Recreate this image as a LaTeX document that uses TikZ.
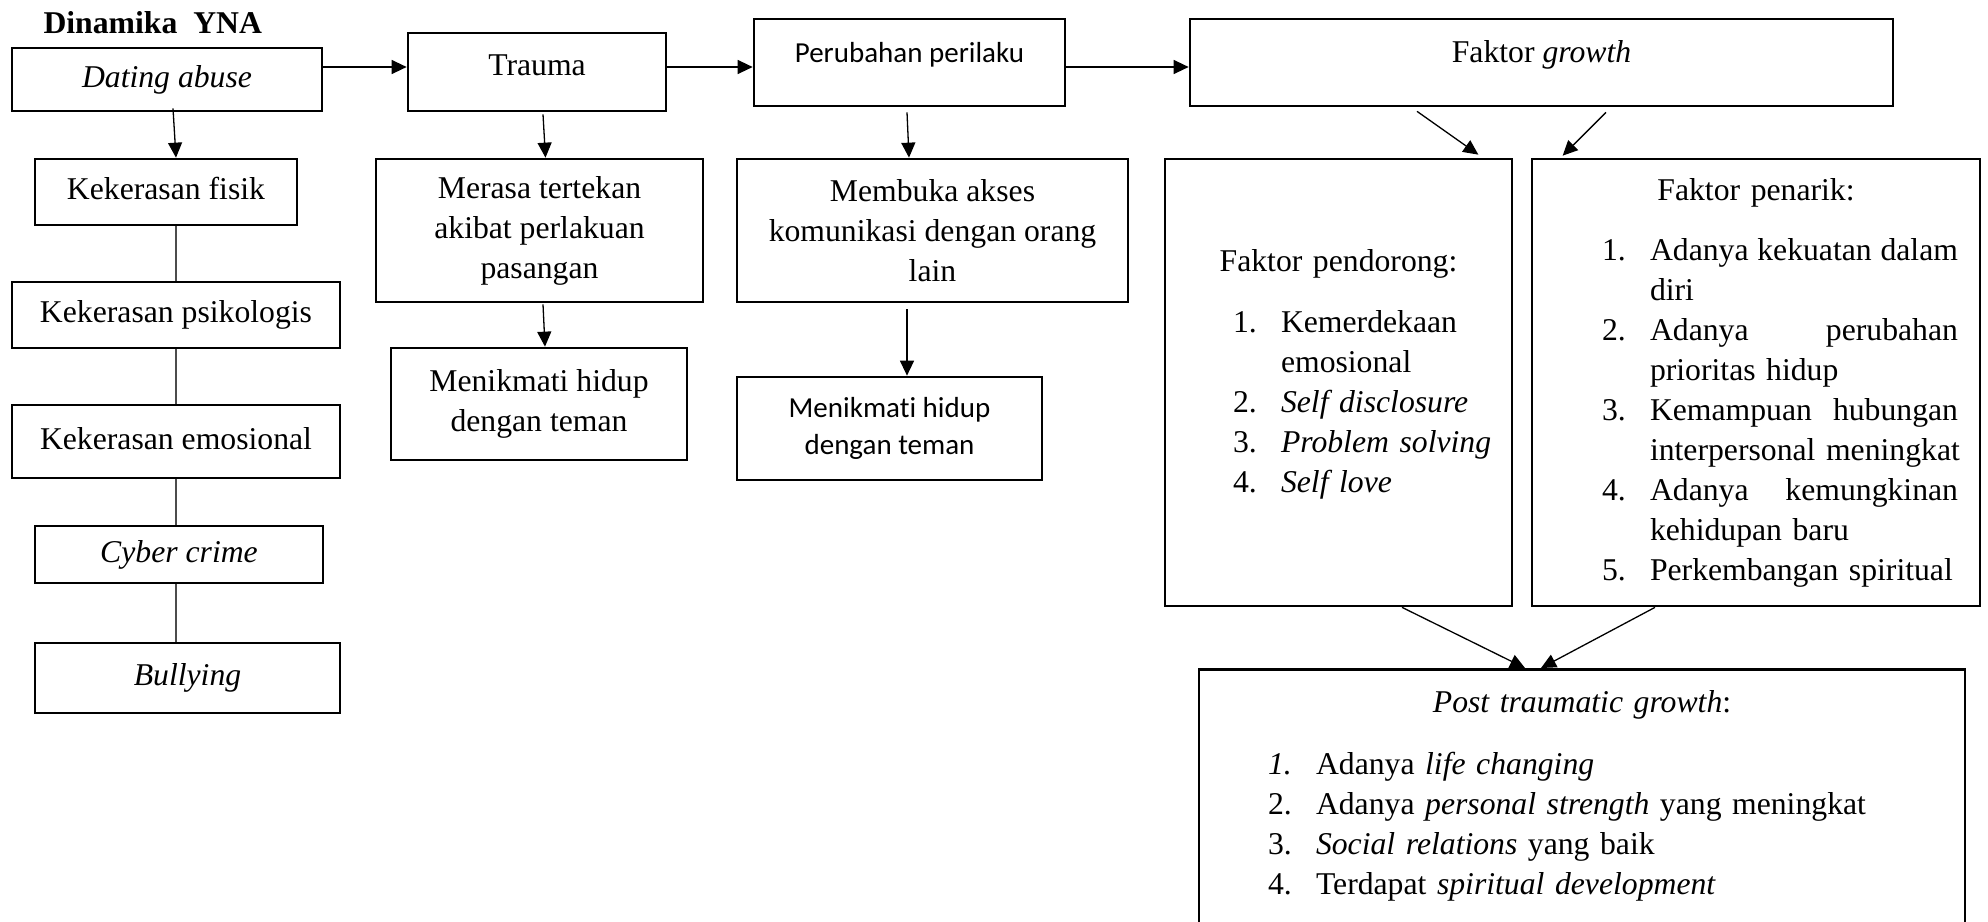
\documentclass[tikz,border=0pt]{standalone}
\usepackage{fontspec}
\setmainfont{Liberation Serif}
\newfontfamily\calibri[Ligatures=NoCommon]{Carlito}
\usetikzlibrary{arrows.meta, positioning, calc}
\setlength{\parindent}{0pt}
\newcommand{\bodysize}{\fontsize{31.7pt}{40pt}\selectfont}
\newcommand{\sanssize}{\calibri\fontsize{29pt}{36.5pt}\selectfont}
\newcommand{\li}[3]{\hspace*{#1}\makebox[48pt][l]{#2}#3}

\begin{document}
\begin{tikzpicture}[x=1pt, y=-1pt, >={Triangle[length=15pt, width=14pt]}, font=\bodysize,
    box/.style={draw, line width=2.7pt, inner sep=0pt, align=center},
    oneline/.style={text height=22pt, text depth=7pt},
    listbox/.style={box, align=left, minimum height=447pt},
    arr/.style={->, line width=1.3pt},
    link/.style={line width=1.3pt, black!70}]
  \useasboundingbox (0,0) rectangle (1988,921);

  \node[anchor=base west, font=\bodysize\bfseries] (title) at (40,33) {Dinamika~ YNA};

  % top row
  \node[box, oneline, minimum width=310pt, minimum height=63pt] (dating) at (167,79.5) {\textit{Dating abuse}};
  \node[box, minimum width=258pt, text height=42pt, text depth=36pt] (trauma) at (537,72) {Trauma};
  \node[box, font=\sanssize, minimum width=311pt, text height=43pt, text depth=44pt] (perubahan) at (909.5,62.5) {Perubahan perilaku};
  \node[box, minimum width=703pt, text height=43pt, text depth=44pt] (growth) at (1541.5,62.5) {Faktor \textit{growth}};

  % bentuk kekerasan
  \node[box, oneline, minimum width=262pt, minimum height=66pt] (fisik) at (166,192) {Kekerasan fisik};
  \node[box, oneline, minimum width=328pt, minimum height=66pt] (psikologis) at (176,315) {Kekerasan psikologis};
  \node[box, oneline, minimum width=328pt, minimum height=73pt] (emosional) at (176,441.5) {Kekerasan emosional};
  \node[box, oneline, minimum width=288pt, minimum height=57pt] (cyber) at (179,554.5) {\textit{Cyber crime}};
  \node[box, oneline, minimum width=305pt, minimum height=70pt] (bullying) at (187.5,678) {\textit{Bullying}};

  % dampak
  \node[box, minimum width=327pt, minimum height=143pt] (tertekan) at (539.5,230.5) {Merasa tertekan\\ akibat perlakuan\\ pasangan};
  \node[box, minimum width=296pt, minimum height=112pt] (hidupA) at (539,404) {Menikmati hidup\\ dengan teman};
  \node[box, minimum width=391pt, minimum height=143pt] (akses) at (932.5,230.5) {Membuka akses\\ komunikasi dengan orang\\ lain};
  \node[box, font=\sanssize, minimum width=305pt, minimum height=103pt] (hidupB) at (889.5,428.5) {Menikmati hidup\\ dengan teman};

  % faktor
  \node[listbox, text width=347pt] (pendorong) at (1338.5,382.5) {%
    \makebox[\hsize]{Faktor pendorong:}\\[21pt]
    \li{68pt}{1.}{Kemerdekaan}\\
    \li{68pt}{}{emosional}\\
    \li{68pt}{2.}{\textit{Self disclosure}}\\
    \li{68pt}{3.}{\textit{Problem solving}}\\
    \li{68pt}{4.}{\textit{Self love}}\\[-17pt]
    \mbox{}};
  \node[listbox, text width=448pt] (penarik) at (1756,382.5) {%
    \makebox[\hsize]{Faktor penarik:}\\[20pt]
    \li{70pt}{1.}{\makebox[308pt][s]{Adanya\hfill kekuatan\hfill dalam}}\\
    \li{70pt}{}{diri}\\
    \li{70pt}{2.}{\makebox[308pt][s]{Adanya\hfill perubahan}}\\
    \li{70pt}{}{prioritas hidup}\\
    \li{70pt}{3.}{\makebox[308pt][s]{Kemampuan\hfill hubungan}}\\
    \li{70pt}{}{interpersonal meningkat}\\
    \li{70pt}{4.}{\makebox[308pt][s]{Adanya\hfill kemungkinan}}\\
    \li{70pt}{}{kehidupan baru}\\
    \li{70pt}{5.}{Perkembangan spiritual}};
  \node[box, align=left, text width=766pt, inner ysep=21.3pt, anchor=north] (ptg) at (1582,668) {%
    \makebox[\hsize]{\textit{Post traumatic growth}:}\\[22pt]
    \li{69pt}{\textit{1.}}{Adanya \textit{life changing}}\\
    \li{69pt}{2.}{Adanya \textit{personal strength} yang meningkat}\\
    \li{69pt}{3.}{\textit{Social relations} yang baik}\\
    \li{69pt}{4.}{Terdapat \textit{spiritual development}}\\
    \mbox{}};

  % alur utama
  \coordinate (row) at (0,67);
  \draw[arr] (dating.east |- row) -- (trauma.west |- row);
  \draw[arr] (trauma.east |- row) -- (perubahan.west |- row);
  \draw[arr] (perubahan.east |- row) -- (growth.west |- row);

  \draw[link] (psikologis.north |- fisik.south) -- (psikologis.north);
  \draw[link] (psikologis.south) -- (emosional.north);
  \draw[link] (emosional.south) -- (emosional.south |- cyber.north);
  \draw[link] (emosional.south |- cyber.south) -- (emosional.south |- bullying.north);

  \draw[arr] ([xshift=6pt, yshift=4pt]dating.south) -- ([xshift=10pt]fisik.north);
  \draw[arr] ([xshift=6pt, yshift=-2pt]trauma.south) -- ([xshift=6pt]tertekan.north);
  \draw[arr] ([xshift=3.5pt, yshift=-1pt]tertekan.south) -- ([xshift=6pt]hidupA.north);
  \draw[arr] ([xshift=-2.5pt, yshift=-5pt]perubahan.south) -- ([xshift=-23.5pt]akses.north);
  \draw[arr] ([xshift=-25.5pt, yshift=-6pt]akses.south) -- ([xshift=17.5pt]hidupB.north);
  \draw[arr] ([xshift=-124.5pt, yshift=-4pt]growth.south) -- ([xshift=-35pt, yshift=3pt]pendorong.north east);
  \draw[arr] ([xshift=64.5pt, yshift=-5pt]growth.south) -- ([xshift=32pt, yshift=2pt]penarik.north west);
  \draw[arr] ([xshift=63.5pt]pendorong.south) -- ([xshift=-57pt]ptg.north);
  \draw[arr] ([xshift=-101pt]penarik.south) -- ([xshift=-41pt]ptg.north);
\end{tikzpicture}
\end{document}
